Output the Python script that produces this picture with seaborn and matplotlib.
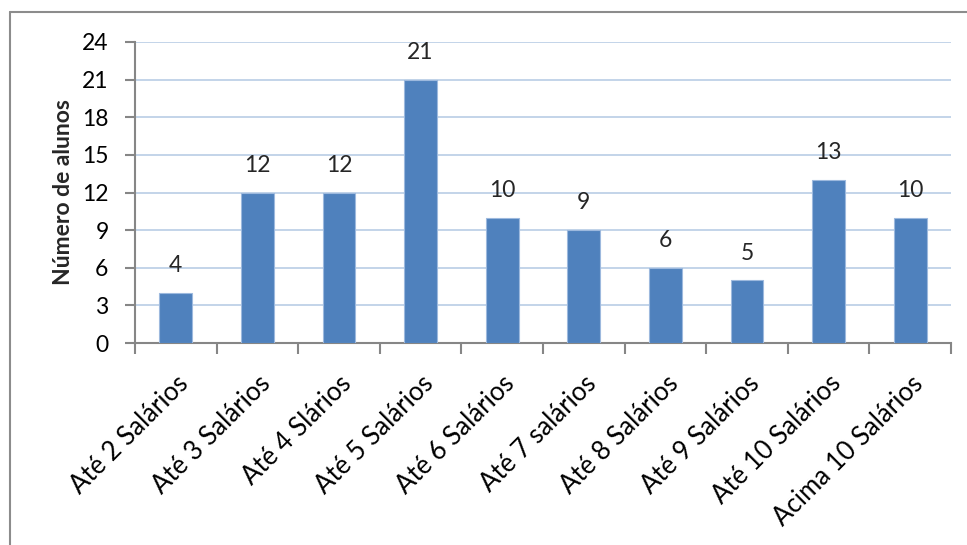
import matplotlib
matplotlib.use("Agg")
import matplotlib.pyplot as plt
import seaborn as sns
import pandas as pd
from matplotlib.lines import Line2D

categories = ["Até 2 Salários", "Até 3 Salários", "Até 4 Slários", "Até 5 Salários",
              "Até 6 Salários", "Até 7 salários", "Até 8 Salários", "Até 9 Salários",
              "Até 10 Salários", "Acima 10 Salários"]
values = [4, 12, 12, 21, 10, 9, 6, 5, 13, 10]
yticks = [0, 3, 6, 9, 12, 15, 18, 21, 24]

sns.set_theme(style="white")
plt.rcParams['font.family'] = ['Lato', 'DejaVu Sans']

df = pd.DataFrame({"cat": categories, "val": values})

W, H = 967, 545
fig = plt.figure(figsize=(W / 100, H / 100), dpi=100)
ax = fig.add_axes([135 / W, 1 - 343 / H, (951 - 135) / W, (343 - 42) / H])

sns.barplot(data=df, x="cat", y="val", ax=ax, color="#4F81BD", saturation=1,
            width=0.4, edgecolor="#9DB9DE", linewidth=0.8, zorder=3)

ax.set_xlim(-0.5, len(categories) - 0.5)
ax.set_ylim(0, 24)
ax.set_yticks(yticks)
ax.set_yticklabels([str(t) for t in yticks], fontsize=16.5, color="black")
ax.yaxis.grid(True, color="#B9CDE5", linewidth=1.2, zorder=0)
ax.set_axisbelow(True)

for s in ["top", "right"]:
    ax.spines[s].set_visible(False)
for s in ["left", "bottom"]:
    ax.spines[s].set_color("#868686")
    ax.spines[s].set_linewidth(1.5)

ax.tick_params(axis="y", which="both", left=True, length=7, width=1.5, color="#868686", pad=12)
ax.set_xticks(range(len(categories)))
ax.set_xticklabels(categories, rotation=45, ha="right", rotation_mode="anchor",
                   fontsize=18.5, color="black")
ax.tick_params(axis="x", bottom=False, pad=14)
ax.set_xticks([i - 0.5 for i in range(len(categories) + 1)], minor=True)
ax.tick_params(axis="x", which="minor", bottom=True, length=8, width=1.5, color="#868686")

ax.set_xlabel("")
ax.set_ylabel("Número de alunos", fontsize=16.5, fontweight="bold", labelpad=6)

for c in ax.containers:
    ax.bar_label(c, labels=[str(v) for v in values], padding=12, fontsize=16.5)

fig.add_artist(Line2D([9.5 / W, 9.5 / W], [0, 1 - 11.5 / H], transform=fig.transFigure,
                      color="#8C8C8C", linewidth=1.5))
fig.add_artist(Line2D([9.5 / W, 1], [1 - 11.5 / H, 1 - 11.5 / H], transform=fig.transFigure,
                      color="#8C8C8C", linewidth=1.5))

fig.savefig("out.png", dpi=100, facecolor="white")
